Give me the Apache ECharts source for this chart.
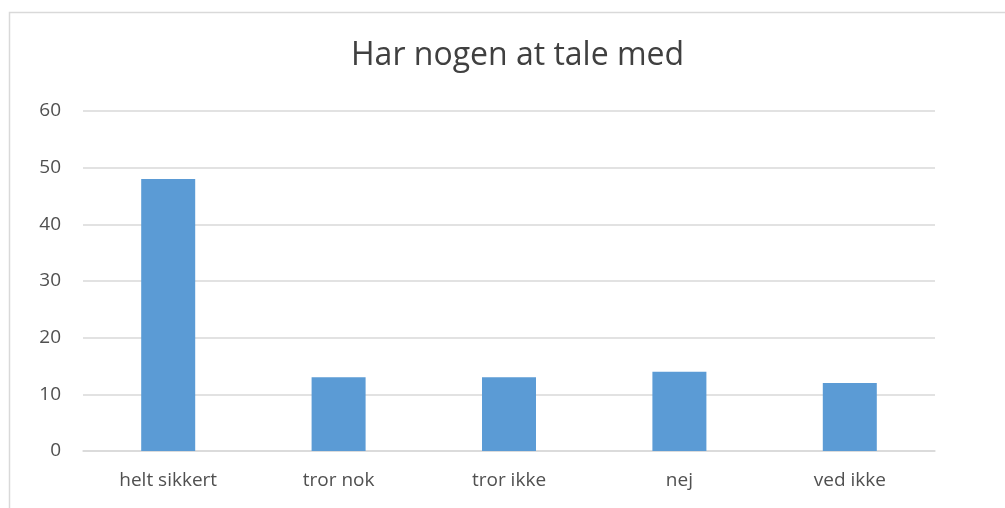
<!DOCTYPE html>
<html>
<head>
<meta charset="utf-8">
<script src="https://cdn.jsdelivr.net/npm/echarts@6/dist/echarts.min.js"></script>
<style>
    html, body { margin: 0; padding: 0; background: #fff; }
    #chart { width: 1005px; height: 508px; }
</style>
</head>
<body>
<div id="chart"></div>
<script>
    // 分类与数值
    var categories = ['helt sikkert', 'tror nok', 'tror ikke', 'nej', 'ved ikke'];
    var values = [48, 13, 13, 14, 12];

    var chart = echarts.init(document.getElementById('chart'));

    var option = {
        backgroundColor: '#fff',
        animation: false,
        title: {
            text: 'Har nogen at tale med',
            left: 346,
            top: 35,
            textStyle: {
                fontFamily: 'Open Sans',
                fontSize: 32,
                fontWeight: 'normal',
                color: '#404040'
            }
        },
        graphic: [{
            type: 'rect',
            shape: { x: 9.5, y: 12.5, width: 1010, height: 510 },
            style: { fill: 'none', stroke: '#d9d9d9', lineWidth: 1.5 },
            silent: true
        }],
        grid: {
            left: 83,
            right: 70,
            top: 111,
            bottom: 57
        },
        xAxis: {
            type: 'category',
            data: categories,
            axisTick: { show: false },
            axisLine: { lineStyle: { color: '#d9d9d9', width: 1.5 } },
            axisLabel: {
                margin: 20,
                fontFamily: 'Open Sans',
                fontSize: 19,
                color: '#505050'
            }
        },
        yAxis: {
            type: 'value',
            min: 0,
            max: 60,
            interval: 10,
            axisLine: { show: false },
            axisTick: { show: false },
            splitLine: { lineStyle: { color: '#d9d9d9', width: 1.5 } },
            axisLabel: {
                margin: 22,
                fontFamily: 'Open Sans',
                fontSize: 19,
                color: '#505050'
            }
        },
        series: [{
            type: 'bar',
            data: values,
            barWidth: 54,
            itemStyle: { color: '#5b9bd5' }
        }]
    };

    chart.setOption(option);
</script>
</body>
</html>
